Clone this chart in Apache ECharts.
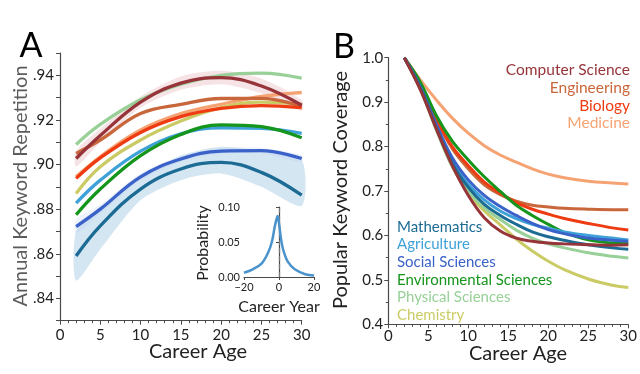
<!DOCTYPE html>
<html><head><meta charset="utf-8">
<script src="https://cdn.jsdelivr.net/npm/echarts/dist/echarts.min.js"></script>
<style>html,body{margin:0;padding:0;background:#fff}#c{width:640px;height:374px}</style>
</head><body><div id="c"></div>
<script>
// ---------- Panel A: annual keyword repetition ----------
const ageA = [2, 5, 10, 15, 20, 25, 30];
const repComputerScience = [0.9027, 0.913, 0.928, 0.9365, 0.939, 0.9352, 0.9266];
const repEngineering     = [0.905, 0.911, 0.9229, 0.927, 0.9296, 0.9297, 0.926];
const repBiology         = [0.8938, 0.903, 0.9144, 0.9215, 0.9252, 0.9264, 0.9255];
const repMedicine        = [0.8945, 0.9035, 0.9155, 0.9228, 0.927, 0.9305, 0.9323];
const repMathematics     = [0.859, 0.8725, 0.889, 0.898, 0.901, 0.8965, 0.8863];
const repAgriculture     = [0.8827, 0.893, 0.906, 0.9138, 0.9165, 0.9162, 0.914];
const repSocial          = [0.8722, 0.880, 0.8945, 0.9025, 0.906, 0.9062, 0.9027];
const repEnvironmental   = [0.8775, 0.889, 0.904, 0.9135, 0.9178, 0.917, 0.912];
const repPhysical        = [0.909, 0.918, 0.929, 0.936, 0.940, 0.941, 0.9387];
const repChemistry       = [0.887, 0.899, 0.911, 0.9195, 0.9255, 0.928, 0.927];
// confidence bands
const mathLower = [0.848, 0.862, 0.884, 0.893, 0.896, 0.890, 0.8815];
const mathUpper = [0.870, 0.881, 0.894, 0.904, 0.908, 0.906, 0.902];
const csLower   = [0.899, 0.910, 0.9255, 0.9335, 0.936, 0.932, 0.924];
const csUpper   = [0.906, 0.916, 0.9305, 0.9395, 0.942, 0.9385, 0.929];
const socLower  = [0.869, 0.878, 0.893, 0.9013, 0.9048, 0.905, 0.9012];
const socUpper  = [0.8755, 0.882, 0.896, 0.9037, 0.9072, 0.9074, 0.9042];

// ---------- Inset: probability vs career year ----------
const careerYear  = [-20, -15, -10, -6, -4, -2.5, -1.5, -0.8, 0, 1, 2, 3, 5, 9, 15, 20];
const probability = [0.006, 0.011, 0.019, 0.036, 0.051, 0.071, 0.082, 0.087, 0.077, 0.057, 0.043, 0.034, 0.022, 0.011, 0.004, 0.002];

// ---------- Panel B: popular keyword coverage ----------
const ageB = [2, 4, 6, 8, 10, 12, 14, 16, 18, 20, 22, 25, 28, 30];
const covComputerScience = [1.0, 0.928, 0.840, 0.757, 0.690, 0.640, 0.610, 0.594, 0.587, 0.583, 0.581, 0.579, 0.578, 0.579];
const covEngineering     = [1.0, 0.938, 0.860, 0.795, 0.750, 0.714, 0.692, 0.677, 0.668, 0.664, 0.661, 0.659, 0.658, 0.658];
const covBiology         = [1.0, 0.940, 0.862, 0.800, 0.757, 0.720, 0.695, 0.674, 0.659, 0.648, 0.638, 0.627, 0.617, 0.612];
const covMedicine        = [1.0, 0.950, 0.905, 0.864, 0.830, 0.802, 0.781, 0.765, 0.750, 0.738, 0.730, 0.722, 0.718, 0.716];
const covMathematics     = [1.0, 0.932, 0.842, 0.762, 0.708, 0.670, 0.645, 0.625, 0.608, 0.597, 0.589, 0.579, 0.572, 0.569];
const covAgriculture     = [1.0, 0.932, 0.845, 0.765, 0.715, 0.680, 0.655, 0.638, 0.625, 0.616, 0.608, 0.600, 0.594, 0.590];
const covSocial          = [1.0, 0.935, 0.850, 0.775, 0.725, 0.690, 0.665, 0.645, 0.627, 0.613, 0.604, 0.594, 0.589, 0.587];
const covEnvironmental   = [1.0, 0.945, 0.870, 0.812, 0.770, 0.732, 0.699, 0.668, 0.645, 0.625, 0.607, 0.590, 0.583, 0.582];
const covPhysical        = [1.0, 0.930, 0.838, 0.755, 0.700, 0.662, 0.636, 0.612, 0.594, 0.581, 0.572, 0.561, 0.553, 0.549];
const covChemistry       = [1.0, 0.930, 0.840, 0.755, 0.695, 0.655, 0.624, 0.592, 0.565, 0.542, 0.523, 0.502, 0.488, 0.483];

const fieldColors = {
  'Computer Science':'#963439', 'Engineering':'#c9673c', 'Biology':'#ef3b12', 'Medicine':'#f6a373',
  'Mathematics':'#1b6b94', 'Agriculture':'#3ea2d9', 'Social Sciences':'#3a62c9',
  'Environmental Sciences':'#16951c', 'Physical Sciences':'#98d098', 'Chemistry':'#cbcb66'
};
const repByField = {
  'Computer Science':repComputerScience, 'Engineering':repEngineering, 'Biology':repBiology, 'Medicine':repMedicine,
  'Mathematics':repMathematics, 'Agriculture':repAgriculture, 'Social Sciences':repSocial,
  'Environmental Sciences':repEnvironmental, 'Physical Sciences':repPhysical, 'Chemistry':repChemistry
};
const covByField = {
  'Computer Science':covComputerScience, 'Engineering':covEngineering, 'Biology':covBiology, 'Medicine':covMedicine,
  'Mathematics':covMathematics, 'Agriculture':covAgriculture, 'Social Sciences':covSocial,
  'Environmental Sciences':covEnvironmental, 'Physical Sciences':covPhysical, 'Chemistry':covChemistry
};
const drawOrderA = ['Physical Sciences','Medicine','Chemistry','Agriculture','Engineering','Biology','Environmental Sciences','Social Sciences','Mathematics','Computer Science'];
const drawOrderB = ['Medicine','Engineering','Biology','Environmental Sciences','Chemistry','Physical Sciences','Agriculture','Social Sciences','Mathematics','Computer Science'];
const legendTop = ['Computer Science','Engineering','Biology','Medicine'];
const legendBottom = ['Mathematics','Agriculture','Social Sciences','Environmental Sciences','Physical Sciences','Chemistry'];

const FONT = 'Lato, "Open Sans", sans-serif';
const pair = (xs, ys) => xs.map((x, i) => [x, ys[i]]);

function axisBase(extra) {
  return Object.assign({
    type: 'value',
    axisLine: { show: true, lineStyle: { color: '#4a4a4a', width: 1.2 } },
    axisTick: { show: true, length: 4, lineStyle: { color: '#4a4a4a' } },
    splitLine: { show: false },
    axisLabel: { color: '#222', fontSize: 15, fontFamily: FONT }
  }, extra);
}

const series = [];
function band(name, lower, upper, color) {
  series.push({
    type: 'custom', name: name + ' band', xAxisIndex: 0, yAxisIndex: 0, silent: true, z: 1,
    data: [[ageA[0], lower[0]]],
    renderItem: (params, api) => {
      const top = ageA.map((x, i) => api.coord([x, upper[i]]));
      const bot = ageA.map((x, i) => api.coord([x, lower[i]])).reverse();
      return { type: 'polygon', shape: { points: top.concat(bot), smooth: 0.25 }, style: { fill: color } };
    }
  });
}
band('math', mathLower, mathUpper, 'rgba(185,213,235,0.6)');
band('cs', csLower, csUpper, 'rgba(225,175,180,0.35)');
band('soc', socLower, socUpper, 'rgba(185,205,240,0.25)');

drawOrderA.forEach(f => series.push({
  type: 'line', name: f, xAxisIndex: 0, yAxisIndex: 0, symbol: 'none', smooth: 0.4,
  data: pair(ageA, repByField[f]), lineStyle: { color: fieldColors[f], width: 3.3 }, z: 3
}));
drawOrderB.forEach(f => series.push({
  type: 'line', name: f + ' B', xAxisIndex: 1, yAxisIndex: 1, symbol: 'none', smooth: 0.4,
  data: pair(ageB, covByField[f]), lineStyle: { color: fieldColors[f], width: 3 }, z: 3
}));
series.push({
  type: 'line', name: 'Probability', xAxisIndex: 2, yAxisIndex: 2, symbol: 'none', smooth: 0.35,
  data: pair(careerYear, probability), lineStyle: { color: '#4b93cc', width: 2.5 }, z: 5,
  markLine: { symbol: 'none', silent: true, label: { show: false },
    lineStyle: { color: '#777', type: [5, 3], width: 1.2 }, data: [{ xAxis: 0 }] }
});

const graphic = [];
function txt(text, x, y, size, color, opts) {
  graphic.push(Object.assign({ type: 'text', x: x, y: y, silent: true,
    style: Object.assign({ text: text, font: size + 'px ' + FONT, fill: color, textAlign: 'center', textVerticalAlign: 'middle' }, (opts && opts.style) || {}) },
    opts && opts.rotation ? { rotation: opts.rotation } : {}));
}
txt('A', 31, 46, 34, '#000');
txt('B', 344, 47, 34, '#000');
txt('C', 651, 47, 34, '#666');
txt('Annual Keyword Repetition', 21, 186, 20, '#5c5c5c', { rotation: Math.PI / 2 });
txt('Career Age', 198, 352, 20, '#222');
txt('Popular Keyword Coverage', 341, 190, 20, '#222', { rotation: Math.PI / 2 });
txt('Career Age', 518, 354, 20, '#222');
txt('Probability', 203, 243, 16, '#222', { rotation: Math.PI / 2 });
txt('Career Year', 279, 307, 16, '#222');
legendTop.forEach((f, i) => txt(f, 630, 70 + i * 17.8, 15.5, fieldColors[f], { style: { textAlign: 'right' } }));
legendBottom.forEach((f, i) => txt(f, 397, 227 + i * 17.6, 15, fieldColors[f], { style: { textAlign: 'left' } }));

const chart = echarts.init(document.getElementById('c'), null, { renderer: 'canvas' });
chart.setOption({
  animation: false,
  backgroundColor: '#fff',
  grid: [
    { left: 60, top: 53, width: 241.7, height: 267.7 },
    { left: 388.3, top: 57.7, width: 241.7, height: 266.6 },
    { left: 244, top: 207, width: 70, height: 70 }
  ],
  xAxis: [
    axisBase({ gridIndex: 0, min: 0, max: 30, interval: 5, minorTick: { show: true, splitNumber: 5, length: 2.5, lineStyle: { color: '#4a4a4a' } }, axisLabel: { color: '#222', fontSize: 15, fontFamily: FONT, margin: 7 } }),
    axisBase({ gridIndex: 1, min: 0, max: 30, interval: 5, minorTick: { show: true, splitNumber: 5, length: 2.5, lineStyle: { color: '#4a4a4a' } }, axisLabel: { color: '#222', fontSize: 15, fontFamily: FONT, margin: 4 } }),
    axisBase({ gridIndex: 2, min: -20, max: 20, interval: 20, axisTick: { show: true, length: 3, lineStyle: { color: '#4a4a4a' } }, axisLabel: { color: '#222', fontSize: 11, fontFamily: FONT, margin: 5, formatter: v => String(v).replace('-', '\u2212') } })
  ],
  yAxis: [
    axisBase({ gridIndex: 0, min: 0.83, max: 0.95, interval: 0.01,
      axisLabel: { color: '#222', fontSize: 15, fontFamily: FONT, margin: 6,
        formatter: v => { const k = Math.round(v * 100); return k % 2 === 0 ? '.' + k : ''; } } }),
    axisBase({ gridIndex: 1, min: 0.4, max: 1.0, interval: 0.1, minorTick: { show: true, splitNumber: 2, length: 2.5, lineStyle: { color: '#4a4a4a' } },
      axisLabel: { color: '#222', fontSize: 15, fontFamily: FONT, margin: 5, formatter: v => v.toFixed(1) } }),
    axisBase({ gridIndex: 2, min: 0, max: 0.1, interval: 0.05, axisTick: { show: true, length: 3, lineStyle: { color: '#4a4a4a' } },
      axisLabel: { color: '#222', fontSize: 11, fontFamily: FONT, margin: 4, formatter: v => v.toFixed(2) } })
  ],
  series: series,
  graphic: graphic
});
</script></body></html>
